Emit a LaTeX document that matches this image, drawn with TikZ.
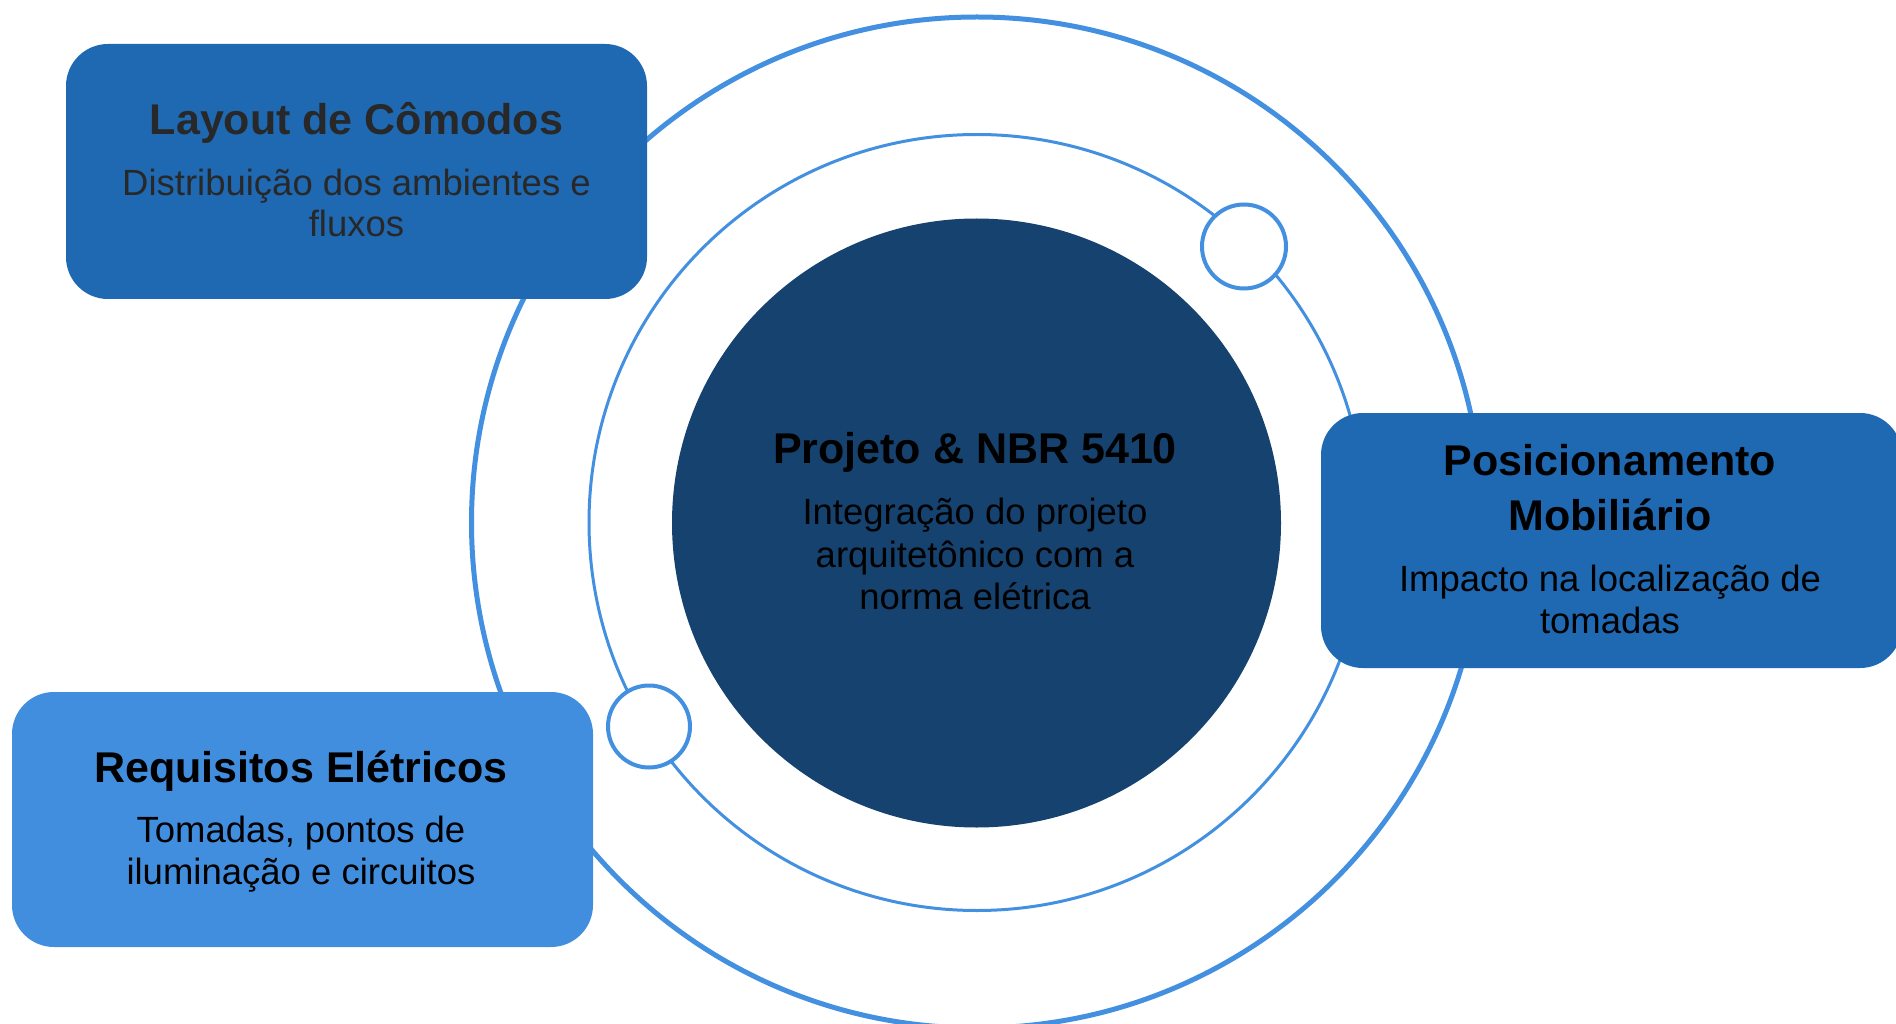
\documentclass[tikz,border=0pt]{standalone}
\usepackage{fontspec}
\setmainfont{Liberation Sans}
\definecolor{boxblue}{RGB}{31,105,179}
\definecolor{lightblue}{RGB}{66,142,222}
\definecolor{navyfill}{RGB}{22,66,111}
\definecolor{ringblue}{RGB}{68,144,224}
\definecolor{txtgray}{RGB}{40,40,40}
\tikzset{
  card/.style={rectangle, rounded corners=42pt, minimum width=581pt, minimum height=255pt, inner sep=0pt, outer sep=0pt},
  ttl/.style={anchor=base, inner sep=0pt, font=\fontsize{43}{50}\selectfont\bfseries},
  sub/.style={anchor=base, inner sep=0pt, font=\fontsize{36.5}{44}\selectfont},
  ring/.style={circle, draw=ringblue, inner sep=0pt, outer sep=0pt},
}
\begin{document}
\begin{tikzpicture}[x=1pt,y=-1pt]
\path[use as bounding box] (0,0) rectangle (1896,1024);
\clip (0,0) rectangle (1896,1024);
% rings
\node[ring, line width=5pt, minimum size=1011pt] (outer) at (977,522.5) {};
\node[ring, line width=3pt, minimum size=776pt] (middle) at (977,522.5) {};
\node[ring, line width=4pt, fill=white, minimum size=84pt] (dotA) at (1244,246.5) {};
\node[ring, line width=4pt, fill=white, minimum size=82pt] (dotB) at (649,726.5) {};
% center disk
\node[circle, fill=navyfill, inner sep=0pt, minimum size=609pt] (core) at (976.5,523) {};
\node[ttl] (coreT) at (975,463) {Projeto \& NBR 5410};
\node[sub] (coreS1) at (975,524) {Integração do projeto};
\node[sub] (coreS2) at (975,567) {arquitetônico com a};
\node[sub] (coreS3) at (975,609) {norma elétrica};
% cards
\node[card, fill=boxblue] (layout) at (356.5,171.5) {};
\node[ttl, text=txtgray] (layoutT) at (356.5,135) {Layout de Cômodos};
\node[sub, text=txtgray] (layoutS1) at (356.5,196) {Distribuição dos ambientes e};
\node[sub, text=txtgray] (layoutS2) at (356.5,237) {fluxos};
\node[card, fill=boxblue] (mob) at (1611.5,540.5) {};
\node[ttl] (mobT1) at (1610,475) {Posicionamento};
\node[ttl] (mobT2) at (1610,530) {Mobiliário};
\node[sub] (mobS1) at (1610,591) {Impacto na localização de};
\node[sub] (mobS2) at (1610,633) {tomadas};
\node[card, fill=lightblue] (req) at (302.5,819.5) {};
\node[ttl] (reqT) at (301,782) {Requisitos Elétricos};
\node[sub] (reqS1) at (301,842) {Tomadas, pontos de};
\node[sub] (reqS2) at (301,884) {iluminação e circuitos};
\end{tikzpicture}
\end{document}
